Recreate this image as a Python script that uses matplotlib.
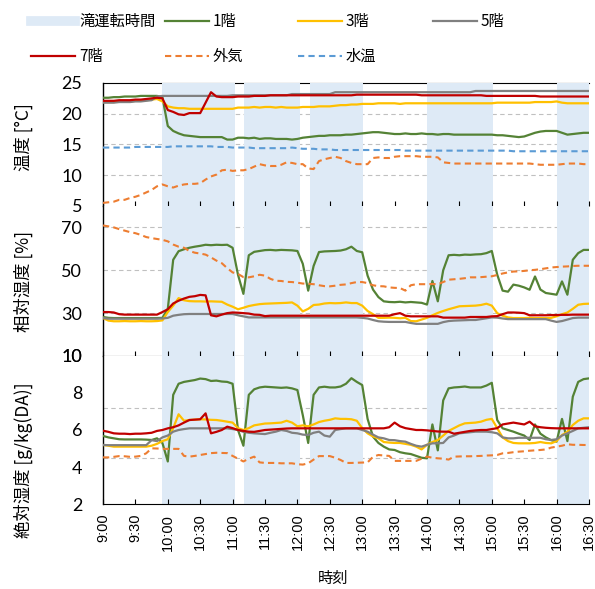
import numpy as np
import matplotlib
matplotlib.use('Agg')
import matplotlib.pyplot as plt
from matplotlib.lines import Line2D

plt.rcParams['font.family'] = ['Noto Sans CJK JP', 'DejaVu Sans']

# readings every 5 minutes, 9:00 - 16:30
minutes = np.arange(0, 455, 5)
hours = 9 + minutes / 60

tick_labels = ['9:00', '9:30', '10:00', '10:30', '11:00', '11:30', '12:00', '12:30',
               '13:00', '13:30', '14:00', '14:30', '15:00', '15:30', '16:00', '16:30']

# waterfall operating periods
run_periods = [('9:55', '11:02'), ('11:11', '12:02'), ('12:12', '13:01'),
               ('14:00', '15:01'), ('16:00', '16:30')]

# temperature [deg C]
temp_1f = [22.6, 22.6, 22.7, 22.7, 22.8, 22.8, 22.8, 22.9, 22.9, 22.9, 22.9,
           22.7, 18.0, 17.2, 16.8, 16.5, 16.4, 16.3, 16.2, 16.2, 16.2,
           16.2, 16.2, 15.8, 15.8, 16.1, 16.1, 16.0, 16.1, 15.9, 16.0,
           16.0, 15.9, 15.9, 15.9, 15.8, 15.9, 16.1, 16.2, 16.3, 16.4,
           16.4, 16.5, 16.5, 16.5, 16.6, 16.6, 16.7, 16.8, 16.9, 17.0,
           17.0, 16.9, 16.8, 16.7, 16.7, 16.8, 16.7, 16.7, 16.8, 16.7,
           16.7, 16.6, 16.7, 16.7, 16.6, 16.6, 16.6, 16.6, 16.6, 16.6,
           16.6, 16.6, 16.5, 16.5, 16.4, 16.3, 16.2, 16.3, 16.6, 16.9,
           17.1, 17.2, 17.2, 17.2, 16.9, 16.6, 16.7, 16.8, 16.9, 16.9]
temp_3f = [21.9, 21.9, 21.9, 22.0, 22.0, 22.0, 22.1, 22.1, 22.2, 22.3, 22.4,
           22.0, 21.2, 21.0, 20.9, 20.9, 20.8, 20.8, 20.8, 20.8, 20.8,
           20.8, 20.8, 20.8, 20.8, 21.0, 21.0, 21.0, 21.1, 21.0, 21.1,
           21.1, 21.0, 21.1, 21.0, 21.0, 21.0, 21.1, 21.1, 21.1, 21.2,
           21.2, 21.2, 21.3, 21.4, 21.4, 21.5, 21.5, 21.6, 21.6, 21.6,
           21.7, 21.7, 21.7, 21.7, 21.6, 21.7, 21.7, 21.7, 21.7, 21.7,
           21.7, 21.7, 21.7, 21.7, 21.7, 21.7, 21.7, 21.7, 21.7, 21.7,
           21.7, 21.7, 21.8, 21.8, 21.8, 21.8, 21.8, 21.8, 21.8, 21.9,
           21.9, 21.9, 21.9, 22.0, 21.8, 21.7, 21.7, 21.7, 21.7, 21.7]
temp_5f = [21.8, 21.8, 21.8, 21.9, 21.9, 21.9, 22.0, 22.0, 22.1, 22.2, 22.8,
           22.9, 22.9, 22.9, 22.9, 22.9, 22.9, 22.9, 22.9, 22.9, 22.9,
           22.9, 22.9, 22.9, 23.0, 23.0, 23.0, 23.0, 23.0, 23.0, 23.0,
           23.0, 23.0, 23.0, 23.0, 23.2, 23.2, 23.2, 23.2, 23.2, 23.2,
           23.2, 23.2, 23.5, 23.5, 23.5, 23.5, 23.5, 23.5, 23.5, 23.5,
           23.5, 23.5, 23.5, 23.5, 23.5, 23.5, 23.5, 23.5, 23.5, 23.5,
           23.5, 23.5, 23.5, 23.5, 23.5, 23.5, 23.5, 23.5, 23.7, 23.7,
           23.7, 23.7, 23.7, 23.7, 23.7, 23.7, 23.7, 23.7, 23.7, 23.7,
           23.7, 23.7, 23.7, 23.7, 23.7, 23.7, 23.7, 23.7, 23.7, 23.7]
temp_7f = [22.1, 22.1, 22.1, 22.2, 22.2, 22.2, 22.3, 22.3, 22.4, 22.5, 22.6,
           22.5, 20.6, 20.3, 19.9, 19.8, 20.1, 20.1, 20.1, 21.8, 23.5,
           22.8, 22.7, 22.7, 22.7, 22.8, 22.8, 22.8, 22.9, 22.9, 22.9,
           23.0, 23.0, 23.0, 23.0, 23.0, 23.0, 23.0, 23.0, 23.0, 23.0,
           23.0, 23.0, 23.0, 23.0, 23.0, 23.0, 23.1, 23.1, 23.1, 23.1,
           23.1, 23.1, 23.1, 23.1, 23.1, 23.1, 23.1, 23.1, 23.0, 23.0,
           23.0, 23.0, 23.0, 23.0, 23.0, 23.0, 23.0, 23.0, 23.0, 23.0,
           22.9, 22.9, 22.9, 22.9, 22.9, 22.9, 22.9, 22.9, 22.9, 22.9,
           22.8, 22.8, 22.8, 22.8, 22.8, 22.8, 22.8, 22.8, 22.8, 22.8]
temp_out = [5.5, 5.6, 5.7, 6.0, 6.0, 6.3, 6.5, 6.8, 7.2, 7.6, 8.2,
            8.5, 8.2, 8.0, 8.3, 8.5, 8.6, 8.6, 8.7, 9.3, 9.8,
            10.1, 10.8, 10.9, 10.7, 10.8, 10.8, 11.0, 11.4, 11.8, 11.6,
            11.5, 11.5, 11.7, 12.1, 12.0, 11.8, 11.8, 11.1, 11.0, 12.3,
            12.6, 12.8, 13.0, 12.8, 12.3, 12.0, 11.8, 11.8, 11.8, 12.8,
            12.9, 12.8, 12.8, 13.0, 13.1, 13.1, 13.1, 13.1, 13.0, 13.0,
            13.0, 12.9, 12.1, 12.0, 11.9, 11.9, 11.9, 11.9, 11.9, 11.9,
            11.9, 11.9, 11.9, 11.9, 11.9, 11.9, 11.9, 11.9, 11.9, 11.8,
            11.7, 11.7, 11.7, 11.7, 11.8, 11.9, 11.9, 11.9, 11.8, 11.8]
temp_water = [14.5, 14.5, 14.5, 14.5, 14.5, 14.5, 14.6, 14.6, 14.6, 14.6, 14.6,
              14.6, 14.6, 14.7, 14.7, 14.7, 14.7, 14.7, 14.7, 14.7, 14.7,
              14.6, 14.6, 14.6, 14.5, 14.5, 14.5, 14.5, 14.4, 14.4, 14.4,
              14.4, 14.4, 14.4, 14.4, 14.5, 14.4, 14.3, 14.3, 14.3, 14.2,
              14.2, 14.2, 14.1, 14.1, 14.1, 14.1, 14.1, 14.1, 14.1, 14.1,
              14.1, 14.1, 14.1, 14.1, 14.1, 14.0, 14.0, 14.0, 14.0, 14.0,
              14.0, 14.0, 14.0, 14.0, 14.0, 14.0, 14.0, 14.0, 14.0, 14.0,
              14.0, 14.0, 14.0, 14.0, 14.0, 13.9, 13.9, 13.9, 13.9, 13.9,
              13.9, 13.9, 13.9, 13.9, 13.9, 13.9, 13.9, 13.9, 13.9, 13.9]

# relative humidity [%]
rh_1f = [28.2, 27.8, 27.7, 27.7, 27.7, 27.7, 27.7, 27.7, 27.7, 27.7, 27.7,
         27.8, 32.0, 54.9, 58.9, 59.8, 60.5, 61.0, 61.4, 61.9, 61.7,
         61.9, 61.8, 61.9, 60.5, 47.9, 39.0, 57.0, 58.6, 59.0, 59.4,
         59.5, 59.3, 59.5, 59.4, 59.3, 59.0, 53.0, 40.5, 52.0, 58.5,
         58.8, 58.9, 59.0, 59.2, 59.8, 61.0, 59.0, 58.4, 47.5, 41.0,
         37.5, 35.5, 35.2, 35.1, 35.3, 35.0, 35.2, 35.0, 34.8, 34.0,
         45.0, 35.5, 50.0, 57.0, 57.2, 57.0, 57.3, 57.2, 57.4, 57.5,
         58.0, 59.0, 48.0, 40.5, 40.0, 43.3, 42.8, 42.0, 40.9, 47.1,
         41.0, 39.4, 39.0, 38.6, 44.8, 38.6, 54.9, 58.0, 59.5, 59.5]
rh_3f = [27.7, 26.5, 26.2, 26.2, 26.3, 26.2, 26.2, 26.3, 26.2, 26.2, 26.3,
         26.6, 30.5, 33.5, 37.0, 36.0, 35.6, 35.5, 35.5, 35.4, 35.5,
         35.4, 35.3, 34.0, 33.0, 31.8, 32.5, 33.3, 33.8, 34.2, 34.4,
         34.5, 34.6, 34.7, 34.8, 35.0, 33.5, 30.8, 32.0, 33.8, 34.0,
         34.5, 34.7, 34.6, 34.7, 35.0, 34.7, 34.7, 33.5, 31.0, 29.5,
         27.8, 27.8, 27.9, 27.8, 27.6, 27.8, 26.3, 26.2, 27.0, 27.8,
         29.0, 30.1, 31.0, 31.8, 32.5, 33.2, 33.3, 33.4, 33.5, 33.8,
         34.4, 33.5, 30.0, 28.8, 28.0, 27.7, 27.7, 27.7, 27.8, 27.7,
         27.7, 27.7, 27.8, 28.5, 29.5, 30.3, 32.0, 33.9, 34.3, 34.4]
rh_5f = [27.7, 27.4, 27.4, 27.4, 27.4, 27.4, 27.4, 27.4, 27.4, 27.4, 27.4,
         27.5, 27.8, 28.8, 29.2, 29.5, 29.6, 29.6, 29.6, 29.6, 29.6,
         29.6, 29.6, 29.6, 29.6, 29.0, 28.5, 28.0, 28.0, 28.0, 28.0,
         28.0, 28.0, 28.0, 28.0, 28.0, 28.0, 28.0, 28.0, 28.0, 28.0,
         28.0, 28.0, 28.0, 28.0, 28.0, 28.0, 28.0, 27.8, 27.5, 26.8,
         26.2, 26.0, 25.9, 25.9, 25.9, 25.9, 25.4, 25.0, 25.0, 25.0,
         25.0, 25.0, 25.8, 26.3, 26.5, 26.6, 26.7, 26.8, 26.8, 27.2,
         27.6, 28.0, 27.9, 27.5, 27.2, 27.2, 27.2, 27.2, 27.2, 27.2,
         27.2, 27.2, 26.5, 25.9, 26.3, 27.0, 27.7, 27.9, 27.9, 27.9]
rh_7f = [30.5, 30.5, 30.3, 29.5, 29.3, 29.3, 29.3, 29.3, 29.3, 29.3, 29.3,
         30.5, 31.8, 34.5, 35.8, 36.8, 37.6, 37.9, 38.5, 38.3, 29.0,
         28.5, 29.3, 30.0, 30.3, 30.2, 30.0, 29.8, 29.3, 29.2, 28.6,
         28.8, 28.8, 28.8, 28.8, 28.8, 28.8, 28.8, 28.8, 28.8, 28.8,
         28.8, 28.8, 28.8, 28.8, 28.8, 28.8, 28.8, 28.8, 28.8, 28.8,
         28.8, 28.8, 28.8, 29.5, 30.0, 28.8, 28.5, 28.5, 28.5, 28.5,
         28.5, 28.5, 27.9, 27.9, 27.9, 27.9, 27.9, 28.2, 28.2, 28.2,
         28.2, 28.5, 28.6, 29.5, 30.3, 30.3, 30.2, 30.0, 29.0, 29.0,
         29.0, 29.0, 29.1, 29.1, 29.2, 29.2, 29.3, 29.3, 29.3, 29.3]
rh_out = [70.9, 70.5, 70.0, 69.2, 68.5, 67.8, 67.3, 66.5, 65.5, 65.0, 64.6,
          64.2, 63.5, 62.0, 61.0, 60.5, 59.0, 58.2, 57.8, 57.3, 56.0,
          54.5, 53.3, 51.0, 49.0, 48.3, 46.8, 46.7, 47.2, 47.9, 47.5,
          46.0, 45.1, 45.0, 44.6, 44.5, 44.2, 43.8, 43.7, 43.5, 43.0,
          42.6, 42.5, 42.8, 43.2, 43.4, 44.0, 44.5, 44.5, 44.0, 43.0,
          42.6, 42.5, 42.0, 41.8, 41.7, 40.5, 43.0, 43.5, 43.5, 43.5,
          43.6, 43.5, 44.5, 45.6, 45.8, 46.0, 46.3, 46.7, 46.7, 46.8,
          47.0, 47.2, 47.8, 48.5, 49.0, 49.4, 49.5, 49.7, 50.0, 50.2,
          50.5, 50.9, 51.3, 51.5, 51.7, 51.8, 52.0, 52.1, 52.1, 52.1]

# absolute humidity [g/kg(DA)]
ah_1f = [5.68, 5.60, 5.55, 5.50, 5.49, 5.49, 5.49, 5.49, 5.48, 5.46, 5.55,
         5.30, 4.30, 7.90, 8.50, 8.60, 8.65, 8.70, 8.78, 8.75, 8.65,
         8.67, 8.62, 8.60, 8.50, 6.00, 5.15, 7.90, 8.20, 8.30, 8.34,
         8.32, 8.30, 8.28, 8.30, 8.25, 8.16, 6.80, 5.30, 7.90, 8.30,
         8.34, 8.30, 8.30, 8.35, 8.50, 8.80, 8.60, 8.43, 6.60, 5.64,
         5.30, 5.10, 4.95, 4.92, 4.80, 4.74, 4.70, 4.60, 4.50, 4.47,
         6.30, 4.90, 7.60, 8.25, 8.30, 8.32, 8.35, 8.30, 8.30, 8.30,
         8.40, 8.55, 6.54, 6.09, 6.00, 5.91, 5.80, 5.70, 5.46, 6.30,
         5.80, 5.60, 5.45, 5.37, 6.60, 5.40, 7.80, 8.60, 8.75, 8.79]
ah_3f = [5.19, 5.15, 5.10, 5.10, 5.10, 5.10, 5.10, 5.10, 5.10, 5.15, 5.25,
         5.40, 5.50, 6.10, 6.85, 6.50, 6.54, 6.56, 6.58, 6.57, 6.55,
         6.54, 6.50, 6.45, 6.40, 6.10, 6.00, 6.10, 6.25, 6.30, 6.35,
         6.36, 6.38, 6.40, 6.50, 6.40, 6.20, 6.25, 6.20, 6.30, 6.43,
         6.50, 6.55, 6.63, 6.60, 6.60, 6.58, 6.50, 6.10, 5.82, 5.65,
         5.55, 5.35, 5.32, 5.30, 5.30, 5.25, 5.20, 5.10, 4.95, 5.20,
         5.35, 5.46, 5.70, 5.95, 6.10, 6.25, 6.36, 6.38, 6.40, 6.45,
         6.55, 6.60, 6.10, 5.60, 5.40, 5.30, 5.28, 5.28, 5.28, 5.30,
         5.35, 5.30, 5.28, 5.40, 5.73, 5.90, 6.27, 6.50, 6.63, 6.63]
ah_5f = [5.19, 5.18, 5.18, 5.18, 5.18, 5.18, 5.18, 5.18, 5.18, 5.45, 5.40,
         5.60, 5.70, 5.91, 6.00, 6.05, 6.09, 6.09, 6.09, 6.09, 6.09,
         6.09, 6.09, 6.09, 6.05, 6.00, 5.90, 5.85, 5.82, 5.80, 5.78,
         5.85, 5.91, 6.00, 5.95, 5.85, 5.82, 5.75, 5.73, 5.85, 5.91,
         5.70, 5.64, 6.00, 6.05, 6.09, 6.09, 6.09, 6.00, 5.91, 5.75,
         5.60, 5.55, 5.46, 5.45, 5.40, 5.37, 5.25, 5.15, 5.10, 5.20,
         5.28, 5.28, 5.30, 5.60, 5.70, 5.82, 5.85, 5.88, 5.91, 5.91,
         5.91, 5.88, 5.82, 5.60, 5.55, 5.55, 5.58, 5.58, 5.58, 5.58,
         5.58, 5.50, 5.46, 5.50, 5.70, 5.82, 5.95, 6.09, 6.12, 6.15]
ah_7f = [5.96, 5.90, 5.82, 5.80, 5.80, 5.78, 5.80, 5.80, 5.82, 5.85, 5.95,
         6.00, 6.09, 6.15, 6.25, 6.40, 6.54, 6.56, 6.58, 6.90, 5.82,
         5.90, 6.00, 6.18, 6.10, 6.00, 5.95, 5.91, 5.90, 5.95, 6.00,
         6.02, 6.04, 6.06, 6.08, 6.09, 6.09, 6.09, 6.09, 6.09, 6.09,
         6.09, 6.09, 6.09, 6.09, 6.09, 6.09, 6.09, 6.09, 6.09, 6.09,
         6.09, 6.09, 6.15, 6.40, 6.20, 6.10, 6.05, 6.00, 6.00, 5.98,
         5.95, 5.92, 5.91, 5.91, 5.80, 5.85, 5.90, 5.95, 5.98, 6.00,
         6.00, 6.05, 6.10, 6.30, 6.35, 6.40, 6.35, 6.30, 6.45, 6.20,
         6.15, 6.12, 6.10, 6.09, 6.09, 6.09, 6.09, 6.09, 6.09, 6.09]
ah_out = [4.52, 4.52, 4.55, 4.59, 4.58, 4.55, 4.56, 4.60, 4.74, 5.01, 5.00,
          4.98, 4.98, 4.98, 4.98, 4.60, 4.56, 4.60, 4.65, 4.70, 4.75,
          4.77, 4.76, 4.75, 4.60, 4.45, 4.30, 4.45, 4.56, 4.25, 4.22,
          4.22, 4.22, 4.20, 4.20, 4.20, 4.15, 4.13, 4.20, 4.40, 4.59,
          4.59, 4.59, 4.50, 4.38, 4.22, 4.22, 4.23, 4.24, 4.25, 4.55,
          4.65, 4.62, 4.60, 4.33, 4.33, 4.33, 4.33, 4.33, 4.45, 4.56,
          4.50, 4.47, 4.45, 4.40, 4.56, 4.57, 4.58, 4.58, 4.59, 4.60,
          4.62, 4.63, 4.65, 4.74, 4.76, 4.80, 4.83, 4.85, 4.88, 4.90,
          4.92, 4.95, 5.05, 5.10, 5.15, 5.23, 5.20, 5.20, 5.19, 5.19]

c_1f = '#548235'
c_3f = '#FFC000'
c_5f = '#808080'
c_7f = '#C00000'
c_out = '#ED7D31'
c_water = '#5B9BD5'
c_shade = '#DEEAF6'
c_grid = '#C0C0C0'


def to_hours(s):
    h, m = s.split(':')
    return int(h) + int(m) / 60


fig = plt.figure(figsize=(5.95, 5.89), dpi=100)
left, width = 103 / 595, 486 / 595
ax1 = fig.add_axes([left, 0.6503, width, 0.2088])
ax2 = fig.add_axes([left, 0.3956, width, 0.2547])
ax3 = fig.add_axes([left, 0.1443, width, 0.2513])

panels = [
    (ax1, (5, 25), [5, 10, 15, 20, 25], [10, 15, 20],
     [temp_1f, temp_3f, temp_5f, temp_7f, temp_out, temp_water]),
    (ax2, (10, 80), [10, 30, 50, 70], [30, 50, 70],
     [rh_1f, rh_3f, rh_5f, rh_7f, rh_out]),
    (ax3, (2, 10), [2, 4, 6, 8, 10], [4.47, 7.2],
     [ah_1f, ah_3f, ah_5f, ah_7f, ah_out]),
]
colors = [c_1f, c_3f, c_5f, c_7f, c_out, c_water]
dashed = [False, False, False, False, True, True]

xticks = [to_hours(t) for t in tick_labels]

for ax, ylim, yticks, grid_y, series in panels:
    ax.set_xlim(9, 16.5)
    ax.set_ylim(*ylim)
    ax.set_axisbelow(False)
    for gy in grid_y:
        ax.axhline(gy, color=c_grid, lw=0.8, ls=(0, (4, 3)), zorder=1)
    for s, e in run_periods:
        ax.axvspan(to_hours(s), to_hours(e), color=c_shade, lw=0, zorder=2)
    for vals, col, dsh in zip(series, colors, dashed):
        if dsh:
            ax.plot(hours, vals, color=col, lw=1.5, ls=(0, (3, 2)), zorder=3)
        else:
            ax.plot(hours, vals, color=col, lw=1.6, zorder=3)
    ax.set_yticks(yticks)
    ax.set_yticklabels([str(v) for v in yticks], fontfamily='Lato', fontsize=13)
    ax.tick_params(axis='y', length=0, pad=15)
    ax.set_xticks(xticks)
    ax.tick_params(axis='x', direction='in', length=3.6, width=0.8, color='black')
    for side in ['top', 'right', 'bottom']:
        ax.spines[side].set_visible(False)
    ax.spines['left'].set_color('black')
    ax.spines['left'].set_linewidth(1.0)

ax1.spines['top'].set_visible(True)
ax1.spines['top'].set_color('black')
ax1.spines['top'].set_zorder(1.5)
ax2.spines['bottom'].set_visible(True)
ax2.spines['bottom'].set_color('black')
ax2.spines['bottom'].set_zorder(1.5)
ax3.spines['bottom'].set_visible(True)
ax3.spines['bottom'].set_color('black')

ax1.set_xticklabels([])
ax2.set_xticklabels([])
ax3.set_xticklabels(tick_labels, rotation=90, fontfamily='Liberation Sans', fontsize=10.5)
ax3.tick_params(axis='x', pad=7)

fig.text(23 / 595, 1 - 137 / 589, '温度 [°C]', rotation=90, ha='center', va='center', fontsize=12.5)
fig.text(23 / 595, 1 - 281 / 589, '相対湿度 [%]', rotation=90, ha='center', va='center', fontsize=12.5)
fig.text(23 / 595, 1 - 460 / 589, '絶対湿度 [g/kg(DA)]', rotation=90, ha='center', va='center', fontsize=12.5)
fig.text(333 / 595, 1 - 578 / 589, '時刻', ha='center', va='center', fontsize=11)

# legend laid out in four fixed columns
legend_cols = [
    (31, [Line2D([], [], color=c_shade, lw=7), Line2D([], [], color=c_7f, lw=1.6)], ['滝運転時間', '7階']),
    (165, [Line2D([], [], color=c_1f, lw=1.6), Line2D([], [], color=c_out, lw=1.5, ls=(0, (3, 2)))], ['1階', '外気']),
    (298, [Line2D([], [], color=c_3f, lw=1.6), Line2D([], [], color=c_water, lw=1.5, ls=(0, (3, 2)))], ['3階', '水温']),
    (433, [Line2D([], [], color=c_5f, lw=1.6)], ['5階']),
]
for x0, handles, labels in legend_cols:
    fig.legend(handles, labels, loc='upper left', bbox_to_anchor=(x0 / 595, 0.978),
               frameon=False, borderpad=0, borderaxespad=0, fontsize=11,
               handlelength=2.88, handletextpad=0.26, labelspacing=1.2)

fig.savefig('out.png', dpi=100)
